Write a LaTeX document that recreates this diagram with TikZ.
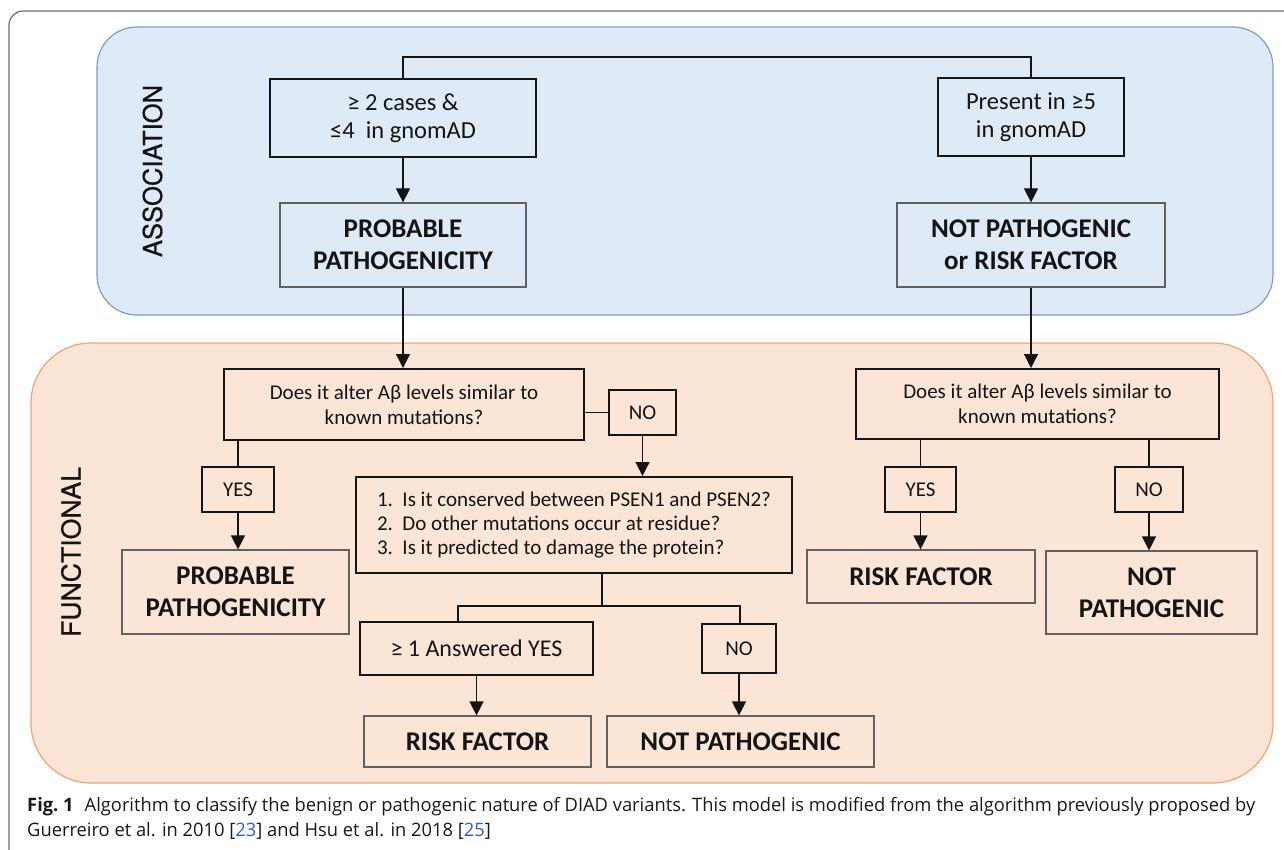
\documentclass[tikz,border=0pt]{standalone}
\usepackage{fontspec}
\setmainfont{Carlito}
\newfontfamily\capfont{Open Sans}
\newfontfamily\sidefont[FakeBold=0.7]{TeX Gyre Heros}
\usetikzlibrary{arrows.meta}
\definecolor{bluefill}{HTML}{DEEBF7}
\definecolor{blueline}{HTML}{7C9CCB}
\definecolor{orangefill}{HTML}{FBE5D6}
\definecolor{orangeline}{HTML}{F0A572}
\definecolor{framegray}{HTML}{6D6D6D}
\definecolor{linkblue}{HTML}{2B5FD9}
\definecolor{inkc}{HTML}{141414}
\newsavebox\capA
\begin{document}
\begin{tikzpicture}[x=1pt,y=-1pt,
  qbox/.style={draw=inkc, line width=2pt, align=center, inner sep=0pt, text=inkc,
     font=\fontsize{21}{25}\selectfont},
  abox/.style={qbox, font=\fontsize{24.5}{28}\selectfont},
  rbox/.style={draw=black!62, line width=1.2pt, align=center, inner sep=0pt, text=inkc,
     font=\fontsize{27}{32}\selectfont\bfseries},
  conn/.style={draw=inkc, line width=1.2pt},
  arr/.style={conn, -{Triangle[width=14pt,length=14pt]}},
  side/.style={rotate=90, inner sep=0pt, text=inkc},
  captext/.style={anchor=base west, inner sep=0pt, text=black!90}]
\useasboundingbox (0,0) rectangle (1284,850);
% outer frame
\draw[framegray, line width=1.2pt, rounded corners=14pt] (1290,11) -- (9,11) -- (9,856);
% regions
\draw[blueline, fill=bluefill, line width=1.2pt, rounded corners=40pt] (97,27) rectangle (1273,315);
\draw[orangeline, fill=orangefill, line width=1.2pt, rounded corners=60pt] (31,343) rectangle (1273,783);
% side labels
\node[side] (assoc) at (152.5,171) {\resizebox{172pt}{19.5pt}{\sidefont ASSOCIATION}};
\node[side] (func) at (71,552) {\resizebox{170pt}{19.5pt}{\sidefont FUNCTIONAL}};
% association nodes
\node[abox, minimum width=266pt, minimum height=78pt] (A1) at (403,118) {≥ 2 cases \&\\≤4\ \ in gnomAD};
\node[abox, minimum width=186pt, minimum height=78pt] (A2) at (1031,117) {Present in ≥5\\in gnomAD};
\node[rbox, minimum width=246pt, minimum height=84pt] (P1) at (403,245) {PROBABLE\\PATHOGENICITY};
\node[rbox, minimum width=268pt, minimum height=84pt] (NPRF) at (1031,245) {NOT PATHOGENIC\\or RISK FACTOR};
% functional nodes
\node[qbox, minimum width=360pt, minimum height=71pt] (Q1) at (404,404.5) {Does it alter Aβ levels similar to\\known mutations?};
\node[qbox, minimum width=67pt, minimum height=45pt] (NO1) at (642.5,412.5) {NO};
\node[qbox, minimum width=436pt, minimum height=96pt] (Q2) at (574,525) {\raisebox{-3pt}{\begin{tabular}{@{}l@{\ \ }l@{}}1.&Is it conserved between PSEN1 and PSEN2?\\[-1pt]2.&Do other mutations occur at residue?\\[-1pt]3.&Is it predicted to damage the protein?\end{tabular}}};
\node[qbox, minimum width=72pt, minimum height=45pt] (YES1) at (238,489.5) {YES};
\node[rbox, minimum width=227pt, minimum height=84pt] (P2) at (235.5,592) {PROBABLE\\PATHOGENICITY};
\node[qbox, minimum width=233pt, minimum height=53pt, font=\fontsize{24}{28}\selectfont] (Y2) at (476.5,648.5) {≥ 1 Answered YES};
\node[qbox, minimum width=74pt, minimum height=49pt] (NO2) at (739,648.5) {NO};
\node[rbox, minimum width=227pt, minimum height=51pt] (RF1) at (477.5,741.5) {RISK FACTOR};
\node[rbox, minimum width=267pt, minimum height=51pt] (NP2) at (740.5,741.5) {NOT PATHOGENIC};
\node[qbox, minimum width=363pt, minimum height=70pt] (Q3) at (1037.5,404) {Does it alter Aβ levels similar to\\known mutations?};
\node[qbox, minimum width=71pt, minimum height=45pt] (YES3) at (920.5,489.5) {YES};
\node[qbox, minimum width=68pt, minimum height=45pt] (NO3) at (1149,489.5) {NO};
\node[rbox, minimum width=228pt, minimum height=53pt] (RF2) at (921,576.5) {RISK FACTOR};
\node[rbox, minimum width=211pt, minimum height=83pt] (NP3) at (1151.5,592.5) {NOT\\PATHOGENIC};
% helper coordinates
\coordinate (topy) at (0,57);
\coordinate (bm) at (602,606);
\coordinate (bl) at (458,606);
\coordinate (br) at (740,606);
% connectors
\draw[conn] (A1.north) -- (A1.north |- topy) -| (A2.north);
\draw[arr] (A1.south) -- (A1.south |- P1.north);
\draw[arr] (A2.south) -- (A2.south |- NPRF.north);
\draw[arr] (P1.south) -- (P1.south |- Q1.north);
\draw[arr] (NPRF.south) -- (NPRF.south |- Q3.north);
\draw[conn] (NO1.west) -- (NO1.west -| Q1.east);
\draw[arr] (NO1.south) -- (NO1.south |- Q2.north);
\draw[conn] (YES1.north) -- (YES1.north |- Q1.south);
\draw[arr] (YES1.south) -- (YES1.south |- P2.north);
\draw[conn] (bm |- Q2.south) -- (bm);
\draw[conn] (bl |- Y2.north) -- (bl) -- (br) -- (br |- NO2.north);
\draw[arr] (Y2.south) -- (Y2.south |- RF1.north);
\draw[arr] (NO2.south) -- (NO2.south |- NP2.north);
\draw[conn] (YES3.north) -- (YES3.north |- Q3.south);
\draw[conn] (NO3.north) -- (NO3.north |- Q3.south);
\draw[arr] (YES3.south) -- (YES3.south |- RF2.north);
\draw[arr] (NO3.south) -- (NO3.south |- NP3.north);
% caption
\node[captext] (cap1) at (27,811) {\sbox\capA{\capfont\fontsize{18.5}{22}\selectfont\textbf{Fig.~1}\hspace{0.6em}Algorithm to classify the benign or pathogenic nature of DIAD variants. This model is modified from the algorithm previously proposed by}\pgfmathsetmacro\capsc{1228/\the\wd\capA}\xdef\capscg{\capsc}\scalebox{\capscg}[1]{\usebox\capA}};
\node[captext] (cap2) at (27,836) {\scalebox{\capscg}[1]{\capfont\fontsize{18.5}{22}\selectfont Guerreiro et al. in 2010 [\textcolor{linkblue}{23}] and Hsu et al. in 2018 [\textcolor{linkblue}{25}]}};
\end{tikzpicture}
\end{document}
